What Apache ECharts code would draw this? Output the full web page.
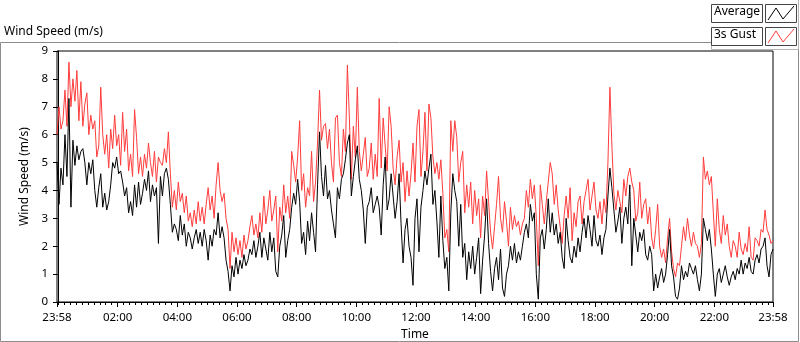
<!DOCTYPE html>
<html>
<head>
<meta charset="utf-8">
<script src="https://cdn.jsdelivr.net/npm/echarts@6/dist/echarts.min.js"></script>
<style>
  html, body { margin: 0; padding: 0; background: #fff; }
  #root { width: 800px; height: 342px; }
</style>
</head>
<body>
<div id="root"></div>
<script>
// minutes after midnight; the record runs 23:58 -> 23:58, one sample every 4 min
const startMin = -2
const stepMin = 4

// 3s gust (m/s)
const gust = [
  6.0, 7.0, 6.2, 6.5, 7.6, 6.3, 8.6, 7.0, 8.0, 7.2,
  8.3, 6.5, 7.9, 6.3, 7.1, 7.5, 6.0, 6.7, 6.2, 6.5,
  5.2, 5.6, 7.7, 6.0, 5.3, 6.0, 4.8, 6.2, 5.5, 6.7,
  5.6, 6.0, 4.9, 6.8, 5.4, 6.2, 4.7, 5.3, 4.5, 6.9,
  5.9, 4.6, 5.2, 4.5, 5.3, 4.8, 5.7, 5.0, 4.5, 5.4,
  4.3, 5.2, 5.0, 4.9, 5.5, 5.0, 6.1, 4.6, 3.4, 4.0,
  3.3, 4.3, 3.6, 3.9, 3.2, 3.8, 2.9, 3.2, 2.7, 3.3,
  2.8, 3.6, 2.9, 3.4, 2.8, 3.5, 4.1, 3.3, 3.8, 3.0,
  4.2, 5.0, 4.0, 3.6, 3.9, 3.0, 2.6, 1.2, 2.5, 1.8,
  2.3, 1.7, 2.2, 1.6, 2.4, 1.9, 2.2, 2.7, 3.1, 2.4,
  2.8, 2.3, 3.2, 2.5, 3.8, 2.8, 3.3, 4.0, 2.9, 3.3,
  3.8, 1.8, 3.4, 2.9, 4.2, 3.2, 3.8, 3.0, 5.4, 4.9,
  4.3, 5.2, 6.5, 4.0, 4.6, 3.4, 4.1, 3.8, 5.4, 3.6,
  4.3, 5.7, 7.6, 5.8, 6.3, 6.4, 5.5, 6.2, 5.0, 4.3,
  6.6, 6.7, 5.0, 4.5, 6.2, 5.4, 8.5, 6.6, 4.4, 6.3,
  5.2, 7.7, 5.4, 4.7, 5.3, 5.9, 4.5, 4.8, 5.7, 4.4,
  5.3, 4.5, 7.3, 4.8, 6.6, 5.6, 4.7, 7.0, 6.3, 4.8,
  4.2, 5.2, 5.8, 4.3, 5.0, 3.6, 4.7, 3.8, 4.6, 5.7,
  4.3, 6.3, 6.9, 4.5, 5.4, 6.8, 4.7, 7.1, 6.6, 5.2,
  4.6, 5.0, 4.4, 5.1, 3.9, 2.3, 2.6, 1.8, 6.5, 5.4,
  6.5, 5.9, 4.3, 5.0, 5.4, 3.2, 4.2, 3.4, 4.3, 2.8,
  4.0, 3.1, 3.7, 2.3, 3.8, 3.1, 4.7, 3.6, 2.5, 1.9,
  2.7, 3.5, 4.5, 3.0, 2.5, 3.6, 2.9, 2.0, 3.4, 2.6,
  3.1, 2.7, 2.9, 2.4, 2.8, 3.0, 4.0, 3.4, 4.4, 3.7,
  4.2, 3.0, 1.3, 4.2, 3.5, 2.8, 3.6, 4.3, 5.0, 4.6,
  3.5, 4.2, 3.3, 2.7, 2.1, 3.1, 3.8, 3.0, 4.1, 2.2,
  3.2, 2.7, 3.6, 3.8, 2.8, 3.6, 4.0, 4.4, 3.3, 3.8,
  4.3, 3.3, 3.0, 3.6, 2.8, 3.7, 3.2, 5.0, 7.7, 5.6,
  3.9, 3.3, 4.0, 3.6, 3.2, 4.4, 3.8, 4.5, 4.8, 4.3,
  4.0, 2.9, 3.2, 4.3, 3.0, 3.5, 3.7, 2.8, 3.4, 2.3,
  1.9, 2.6, 3.5, 2.0, 1.6, 1.9, 1.4, 2.3, 3.0, 1.8,
  1.2, 0.9, 1.4, 1.3, 2.0, 2.7, 2.2, 3.0, 2.4, 2.0,
  2.5, 2.1, 2.0, 1.6, 2.1, 5.2, 4.4, 4.7, 4.2, 4.5,
  3.2, 2.0, 3.7, 2.6, 2.1, 3.1, 2.4, 2.8, 2.0, 1.6,
  2.2, 2.0, 1.6, 2.5, 1.9, 1.7, 2.1, 1.8, 2.7, 1.6,
  1.5, 2.3, 2.2, 2.0, 2.6, 2.5, 3.3, 2.6, 2.4, 2.1, 2.2
]

// average (m/s)
const average = [
  5.0, 3.5, 4.8, 4.2, 6.0, 4.5, 7.3, 3.4, 5.8, 4.9,
  5.6, 5.1, 5.4, 5.5, 5.0, 4.2, 5.0, 4.6, 5.1, 4.0,
  3.4, 4.1, 4.6, 3.4, 3.9, 3.3, 3.6, 4.2, 5.0, 4.8,
  5.2, 4.6, 4.7, 4.3, 3.8, 4.1, 3.2, 3.6, 3.1, 4.2,
  3.4, 4.3, 3.5, 3.9, 4.4, 4.0, 4.7, 3.6, 4.2, 3.8,
  4.1, 2.1, 4.5, 3.8, 4.6, 4.8, 4.4, 3.5, 2.5, 2.8,
  2.6, 2.2, 3.1, 2.4, 2.8, 2.0, 2.5, 2.3, 1.9, 2.3,
  2.6, 2.1, 2.5, 2.0, 2.6, 2.2, 1.5, 2.4, 2.0, 2.6,
  2.4, 3.2, 2.3, 2.7, 2.3, 1.5, 1.1, 0.4, 1.3, 0.9,
  1.6, 1.0, 1.5, 1.2, 1.7, 1.3, 1.5, 1.9, 1.7, 2.2,
  1.6, 2.0, 2.5, 1.6, 2.3, 1.9, 1.5, 2.5, 1.8, 2.3,
  1.1, 0.9, 2.0, 2.4, 3.1, 1.6, 2.2, 2.6, 3.4, 3.9,
  3.5, 4.4, 3.6, 2.1, 2.5, 1.7, 2.9, 2.2, 3.2, 2.5,
  1.8, 4.2, 6.1, 4.5, 3.8, 4.9, 3.7, 4.0, 3.3, 2.8,
  2.3, 4.1, 3.7, 4.4, 4.6, 5.1, 5.7, 6.0, 3.8, 4.5,
  5.1, 5.6, 4.4, 4.0, 3.3, 2.1, 3.4, 3.6, 4.1, 3.2,
  3.5, 3.8, 3.4, 2.4, 4.2, 5.2, 3.3, 3.7, 4.6, 3.8,
  3.0, 3.6, 4.6, 2.8, 1.4, 2.6, 3.0, 2.0, 1.6, 0.6,
  3.0, 3.7, 1.8, 3.4, 4.0, 4.7, 4.2, 4.8, 5.3, 3.5,
  4.0, 2.9, 1.6, 3.8, 2.2, 1.2, 1.6, 0.4, 3.2, 4.6,
  4.0, 3.6, 2.0, 3.5, 1.6, 2.1, 0.8, 1.8, 1.2, 2.0,
  1.0, 1.6, 2.3, 0.3, 1.5, 2.4, 3.7, 2.1, 1.1, 0.4,
  1.2, 1.6, 0.8, 1.9, 0.5, 0.2, 1.0, 1.3, 2.0, 1.5,
  2.1, 1.4, 1.8, 1.5, 2.0, 2.5, 2.8, 2.3, 3.5, 2.9,
  3.2, 1.0, 0.1, 2.3, 2.6, 1.9, 2.6, 3.7, 2.5, 3.2,
  2.4, 2.8, 2.1, 2.5, 1.6, 1.2, 3.0, 2.2, 1.6, 1.4,
  2.0, 1.6, 2.3, 1.8, 2.5, 3.0, 2.3, 3.1, 2.6, 2.0,
  3.1, 2.2, 2.0, 2.4, 1.7, 2.3, 2.6, 3.8, 4.8, 4.1,
  3.3, 2.5, 2.9, 3.4, 2.1, 3.0, 3.4, 2.8, 4.2, 1.3,
  3.0, 2.4, 1.8, 2.5, 2.2, 2.6, 1.7, 1.5, 2.0, 1.7,
  0.4, 1.0, 0.5, 0.9, 1.2, 0.7, 1.0, 1.7, 2.6, 1.3,
  0.9, 0.2, 0.1, 0.5, 1.3, 0.8, 1.1, 0.9, 1.4, 1.2,
  1.0, 1.3, 0.8, 0.4, 1.0, 3.0, 2.6, 2.2, 2.6, 1.9,
  1.0, 0.2, 1.0, 1.2, 0.7, 1.0, 1.3, 0.9, 0.6, 0.9,
  1.1, 0.8, 1.2, 1.0, 1.5, 1.0, 1.4, 1.2, 1.6, 1.1,
  1.0, 1.5, 1.7, 1.4, 1.9, 2.0, 2.3, 1.3, 0.9, 1.7, 1.9
]

// x tick labels (minutes after midnight), first/last are 23:58
const timeLabels = [-2, 120, 240, 360, 480, 600, 720, 840, 960, 1080, 1200, 1320, 1438]
const yTicks = [0, 1, 2, 3, 4, 5, 6, 7, 8, 9]

// minor ticks every 12 min
const minorTicks = []
for (let m = 0; m < 1438; m += 12) minorTicks.push(m)

const toPairs = (arr) => arr.map((v, i) => [startMin + i * stepMin, v])

function fmtTime(v) {
  let m = Math.round(v)
  if (m < 0) m += 1440
  const h = Math.floor(m / 60) % 24
  const mm = m % 60
  return `${String(h).padStart(2, '0')}:${String(mm).padStart(2, '0')}`
}

const font = 'Noto Sans'
const chart = echarts.init(document.getElementById('root'))

const option = {
  animation: false,
  textStyle: { fontFamily: font },
  grid: {
    left: 57,
    top: 51,
    right: 27,
    bottom: 40,
    outerBoundsMode: 'none',
    show: true,
    borderColor: '#000',
    borderWidth: 1
  },
  xAxis: [
    {
      type: 'value',
      min: startMin,
      max: 1438,
      name: 'Time',
      nameLocation: 'middle',
      nameGap: 26,
      nameTextStyle: { color: '#000', fontSize: 12, fontFamily: font },
      axisLine: { lineStyle: { color: '#000' } },
      axisTick: { customValues: timeLabels, length: 5, lineStyle: { color: '#000' } },
      axisLabel: {
        customValues: timeLabels,
        formatter: fmtTime,
        color: '#000',
        fontSize: 11.5,
        margin: 10,
        fontFamily: font
      },
      splitLine: { show: false }
    },
    {
      // minor ticks only
      type: 'value',
      position: 'bottom',
      min: startMin,
      max: 1438,
      axisLine: { show: false },
      axisTick: { customValues: minorTicks, length: 3, lineStyle: { color: '#000' } },
      axisLabel: { show: false },
      splitLine: { show: false }
    }
  ],
  yAxis: {
    type: 'value',
    min: 0,
    max: 9,
    interval: 1,
    name: 'Wind Speed (m/s)',
    nameLocation: 'middle',
    nameGap: 22,
    nameTextStyle: { color: '#000', fontSize: 12, fontFamily: font },
    axisLine: { show: true, lineStyle: { color: '#000' } },
    axisTick: { customValues: yTicks, length: 5, lineStyle: { color: '#000' } },
    axisLabel: { customValues: yTicks, color: '#000', fontSize: 11.5, margin: 9, fontFamily: font },
    splitLine: { show: false }
  },
  series: [
    {
      name: '3s Gust',
      type: 'line',
      data: toPairs(gust),
      showSymbol: false,
      lineStyle: { color: '#ff3c3c', width: 1 },
      itemStyle: { color: '#ff3c3c' }
    },
    {
      name: 'Average',
      type: 'line',
      data: toPairs(average),
      showSymbol: false,
      lineStyle: { color: '#000', width: 1 },
      itemStyle: { color: '#000' }
    }
  ],
  graphic: [
    // outer panel frame
    { type: 'rect', shape: { x: 0.5, y: 42.5, width: 798, height: 299 }, style: { fill: 'none', stroke: '#8c8c8c', lineWidth: 1 }, silent: true },
    { type: 'rect', shape: { x: 711, y: 0, width: 89, height: 49 }, style: { fill: '#fff' }, silent: true },
    { type: 'polyline', shape: { points: [[711.5, 42], [711.5, 49.5], [798.5, 49.5], [798.5, 0]] }, style: { stroke: '#b4b4b4', lineWidth: 1, fill: 'none' }, silent: true },
    { type: 'text', left: 4, top: 26, style: { text: 'Wind Speed (m/s)', font: `12px "${font}"`, fill: '#000' } },
    // legend: Average
    { type: 'rect', shape: { x: 711.5, y: 4.5, width: 51, height: 18 }, style: { fill: '#fff', stroke: '#444', lineWidth: 1 } },
    { type: 'text', left: 714, top: 6, style: { text: 'Average', font: `12px "${font}"`, fill: '#000' } },
    { type: 'rect', shape: { x: 765.5, y: 4.5, width: 31, height: 18 }, style: { fill: '#fff', stroke: '#444', lineWidth: 1 } },
    { type: 'polyline', shape: { points: [[768, 20], [776, 8], [783, 19], [794, 6]] }, style: { stroke: '#000', lineWidth: 1, fill: 'none' } },
    // legend: 3s Gust
    { type: 'rect', shape: { x: 711.5, y: 27.5, width: 51, height: 18 }, style: { fill: '#fff', stroke: '#444', lineWidth: 1 } },
    { type: 'text', left: 714, top: 29, style: { text: '3s Gust', font: `12px "${font}"`, fill: '#000' } },
    { type: 'rect', shape: { x: 765.5, y: 27.5, width: 31, height: 18 }, style: { fill: '#fff', stroke: '#444', lineWidth: 1 } },
    { type: 'polyline', shape: { points: [[768, 43], [776, 31], [783, 42], [794, 29]] }, style: { stroke: '#ff3c3c', lineWidth: 1, fill: 'none' } }
  ]
}

chart.setOption(option)
</script>
</body>
</html>
